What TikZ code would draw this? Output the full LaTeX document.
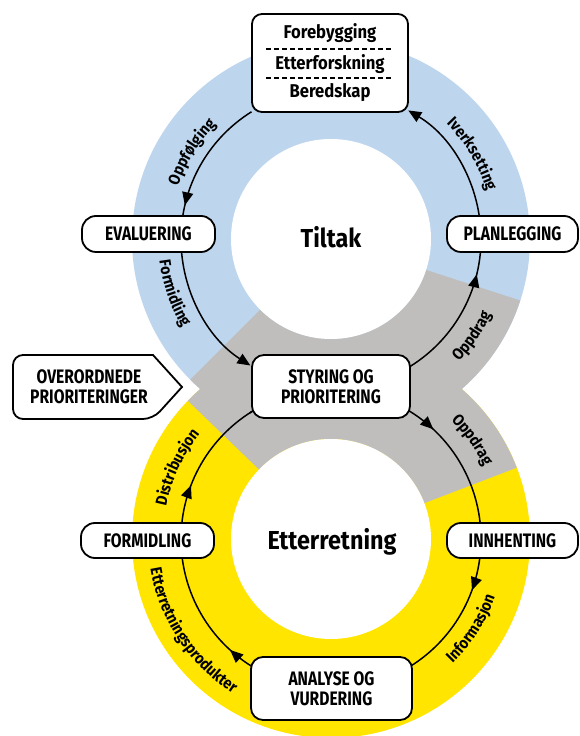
\documentclass[tikz,border=0pt]{standalone}
\usepackage{fontspec}
\setmainfont{Fira Sans}
\newfontfamily\capsf[FakeStretch=0.8]{Fira Sans}
\newfontfamily\lowf[FakeStretch=0.9]{Fira Sans}
\usetikzlibrary{calc,arrows.meta,decorations.markings,decorations.text}
\definecolor{ringblue}{RGB}{189,214,238}
\definecolor{ringgray}{RGB}{191,190,189}
\definecolor{ringyellow}{RGB}{255,229,0}
\newcommand\lblf{\lowf\bfseries\fontsize{16}{18}\selectfont}
\begin{document}
\begin{tikzpicture}[x=1pt,y=1pt,
  box/.style={draw, line width=1.8pt, fill=white, rounded corners=12pt, align=center, inner sep=0pt,
    font=\capsf\bfseries\fontsize{19.5}{20}\selectfont},
  conn/.style={line width=1.5pt},
  tipmark/.style={postaction={decorate}, decoration={markings, mark=at position #1 with {\arrow{Triangle[length=13pt,width=11pt]}}}},
  endtip/.style={-{Triangle[length=13pt,width=11pt]}},
  arclabel/.style={decorate, decoration={text along path, text align=center, text={|\lblf|#1}}},
  ttext/.style={inner sep=0pt, font=\lowf\bfseries\fontsize{18.5}{20}\selectfont},
  bigtext/.style={inner sep=0pt, font=\lowf\bfseries\fontsize{26}{28}\selectfont}
]
\useasboundingbox (0,0) rectangle (579,736);
\fill[white] (0,0) rectangle (579,736);
\coordinate (Ct) at (331,497);
\coordinate (Cb) at (331,197);
% rings
\begin{scope}
\clip (0,0) rectangle (579,736);
\fill[ringblue] (Ct) circle[radius=199];
\fill[ringyellow] (Cb) circle[radius=199];
\fill[ringgray] ($(Ct)+(225:199)$) arc[start angle=225,end angle=342,radius=199]
  -- ($(Ct)+(342:100)$) arc[start angle=342,end angle=225,radius=100] -- cycle;
\fill[ringgray] ($(Cb)+(21:199)$) arc[start angle=21,end angle=136,radius=199]
  -- ($(Cb)+(136:100)$) arc[start angle=136,end angle=21,radius=100] -- cycle;
\fill[white] (Ct) circle[radius=100];
\fill[white] (Cb) circle[radius=100];
\end{scope}
% arc end points
\coordinate (t122) at ($(Ct)+(122:150)$);
\coordinate (t180) at ($(Ct)+(180:150)$);
\coordinate (t300) at ($(Ct)+(300:150)$);
\coordinate (t0) at ($(Ct)+(0:150)$);
\coordinate (b123) at ($(Cb)+(123:150)$);
\coordinate (b0) at ($(Cb)+(0:150)$);
\coordinate (b240) at ($(Cb)+(240:150)$);
\coordinate (b180) at ($(Cb)+(180:150)$);
% connectors, top cycle
\draw[conn, tipmark=0.776] (t122) arc[start angle=122,end angle=180,radius=150];
\draw[conn, endtip] (t180) arc[start angle=180,end angle=237.5,radius=150];
\draw[conn, tipmark=0.773] (t300) arc[start angle=300,end angle=360,radius=150];
\draw[conn, endtip] (t0) arc[start angle=0,end angle=59,radius=150];
% connectors, bottom cycle
\draw[conn, tipmark=0.618] (b123) arc[start angle=123,end angle=0,radius=150];
\draw[conn, tipmark=0.333] (b0) arc[start angle=0,end angle=-60,radius=150];
\draw[conn, tipmark=0.205] (b240) arc[start angle=240,end angle=180,radius=150];
\draw[conn, tipmark=0.35] (b180) arc[start angle=180,end angle=120,radius=150];
% labels along arcs
\path[arclabel=Oppfølging] ($(Ct)+(172:162)$) arc[start angle=172,end angle=124,radius=162];
\path[arclabel=Iverksetting] ($(Ct)+(58:163)$) arc[start angle=58,end angle=4,radius=163];
\path[arclabel=Formidling] ($(Ct)+(172:173)$) arc[start angle=172,end angle=226,radius=173];
\path[arclabel=Oppdrag] ($(Ct)+(-60:177)$) arc[start angle=-60,end angle=-9,radius=177];
\path[arclabel=Oppdrag] ($(Cb)+(60:169)$) arc[start angle=60,end angle=10,radius=169];
\path[arclabel=Informasjon] ($(Cb)+(-62:174)$) arc[start angle=-62,end angle=-3,radius=174];
\path[arclabel=Etterretningsprodukter] ($(Cb)+(170:183)$) arc[start angle=170,end angle=257,radius=183];
\path[arclabel=Distribusjon] ($(Cb)+(182:168)$) arc[start angle=182,end angle=128,radius=168];
% centre titles
\node[bigtext] (tiltak) at (331,499) {Tiltak};
\node[bigtext] (etterretning) at (332,194) {Etterretning};
% boxes
\node[box, rounded corners=10pt, minimum width=156pt, minimum height=98pt] (topbox) at (330,673) {};
\node[ttext] (tb1) at (330,703) {Forebygging};
\node[ttext] (tb2) at (330,672) {Etterforskning};
\node[ttext] (tb3) at (330,643) {Beredskap};
\coordinate (d1a) at (266,687); \coordinate (d1b) at (393,687);
\coordinate (d2a) at (266,658); \coordinate (d2b) at (393,658);
\draw[line width=1.6pt, dash pattern=on 4.5pt off 3.5pt] (d1a) -- (d1b);
\draw[line width=1.6pt, dash pattern=on 4.5pt off 3.5pt] (d2a) -- (d2b);
\node[box, rounded corners=14pt, minimum width=133pt, minimum height=36pt] (eval) at (148.5,502) {EVALUERING};
\node[box, rounded corners=14pt, minimum width=131pt, minimum height=36pt] (plan) at (512.5,502) {PLANLEGGING};
\node[box, minimum width=158pt, minimum height=63pt] (styr) at (331,349.5) {STYRING OG\\PRIORITERING};
\node[box, rounded corners=14pt, minimum width=133pt, minimum height=35pt] (form) at (147.5,195.5) {FORMIDLING};
\node[box, rounded corners=14pt, minimum width=131pt, minimum height=35pt] (innh) at (512.5,195.5) {INNHENTING};
\node[box, minimum width=161pt, minimum height=63pt] (anal) at (331.5,47.5) {ANALYSE OG\\VURDERING};
% pointer
\coordinate (p1) at (182,349);
\coordinate (p2) at (153,381);
\coordinate (p3) at (13,381);
\coordinate (p4) at (13,317);
\coordinate (p5) at (153,317);
\draw[line width=1.8pt, fill=white, line join=miter] (p1) -- (p2) [rounded corners=10pt] -- (p3) -- (p4) -- (p5) [sharp corners] -- cycle;
\node[inner sep=0pt, align=center, font=\capsf\bfseries\fontsize{19.5}{20}\selectfont] (ptr) at (89,349) {OVERORDNEDE\\PRIORITERINGER};
\end{tikzpicture}
\end{document}
